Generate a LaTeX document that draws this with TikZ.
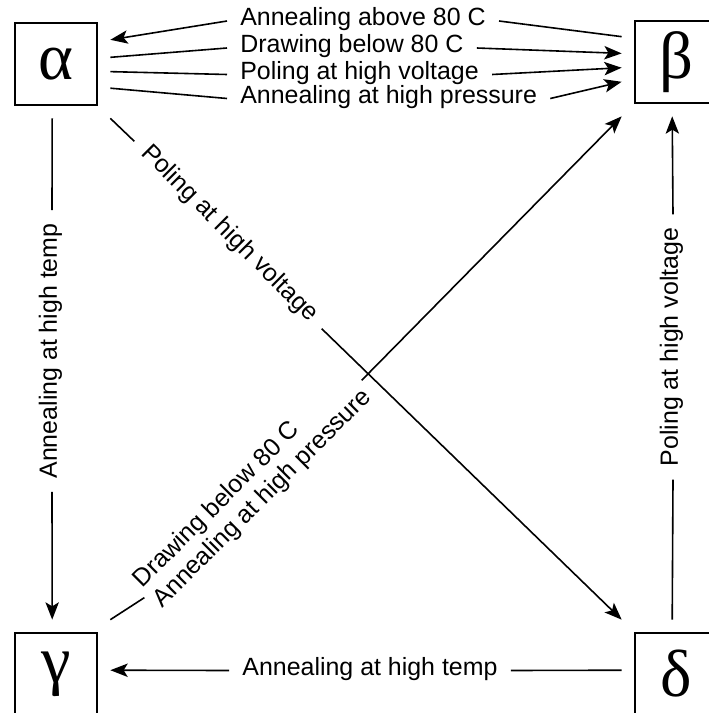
\documentclass[tikz,border=0pt]{standalone}
\usepackage{fontspec}
\setmainfont{Liberation Sans}
\newfontfamily\greekfont{Liberation Serif}
\usetikzlibrary{arrows.meta}
\newcommand{\lblsize}{\fontsize{18.7}{21}\selectfont}

\begin{document}
\begin{tikzpicture}[x=0.75pt,y=-0.75pt,
  phase/.style={draw,line width=1.4pt,minimum size=61.5pt,inner sep=0pt,outer sep=10pt,
    font=\greekfont\fontsize{50}{52}\selectfont},
  lbl/.style={inner sep=0pt,outer sep=10pt,font=\lblsize,text height=.72em,text depth=0pt},
  conn/.style={line width=1.2pt},
  arr/.style={conn,-{Stealth[length=13pt,width=10pt,inset=3pt]}}]
\useasboundingbox (0,0) rectangle (708,713);
\node[phase] (alpha) at (56,64) {α};
\node[phase] (beta) at (676,62) {β};
\node[phase] (gamma) at (56,674) {γ};
\node[phase] (delta) at (676,674) {δ};
\node[lbl,anchor=west] (above80) at (227,21) {Annealing above 80 C};
\node[lbl,anchor=west] (below80) at (227,48) {Drawing below 80 C};
\node[lbl,anchor=west] (polhv) at (227,74.5) {Poling at high voltage};
\node[lbl,anchor=west] (annhp) at (227,98.5) {Annealing at high pressure};
\draw[conn] (beta.155) -- (above80.east);
\draw[arr] (above80.west) -- (alpha.24);
\draw[conn] (alpha.7) -- (below80.west);
\draw[arr] (below80.east) -- (beta.171);
\draw[conn] (alpha.-8) -- (polhv.west);
\draw[arr] (polhv.east) -- (beta.186);
\draw[conn] (alpha.-24) -- (annhp.west);
\draw[arr] (annhp.east) -- (beta.200);
\node[lbl,rotate=90] (annhtl) at (52,351) {Annealing at high temp};
\draw[conn] (alpha.-94) -- (annhtl.east);
\draw[arr] (annhtl.west) -- (gamma.94);
\node[lbl,rotate=90] (polhvr) at (673,347) {Poling at high voltage};
\draw[conn] (delta.94) -- (polhvr.west);
\draw[arr] (polhvr.east) -- (beta.-94);
\node[lbl] (annhtb) at (370,670.5) {Annealing at high temp};
\draw[conn] (delta.176) -- (annhtb.east);
\draw[arr] (annhtb.west) -- (gamma.4);
\node[lbl,rotate=-45] (polhvd) at (228,235) {Poling at high voltage};
\draw[conn] (alpha.south east) -- (polhvd.west);
\draw[arr] (polhvd.east) -- (delta.north west);
\node[inner sep=0pt,outer sep=4pt,font=\lblsize,rotate=45,align=left] (drawann) at (253,489)
  {Drawing below 80 C\\Annealing at high pressure};
\draw[conn] (gamma.north east) -- (drawann.west);
\draw[arr] (drawann.east) -- (beta.south west);
\end{tikzpicture}
\end{document}
